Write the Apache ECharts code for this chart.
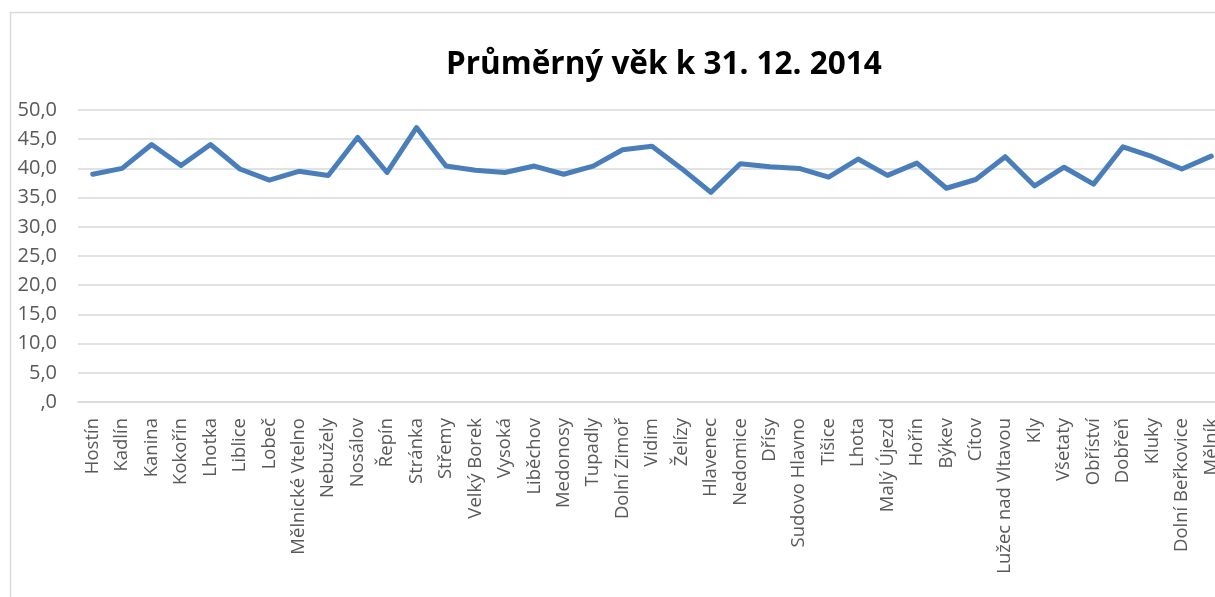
<!DOCTYPE html>
<html>
<head>
<meta charset="utf-8">
<script src="https://cdn.jsdelivr.net/npm/echarts@6/dist/echarts.min.js"></script>
<style>
  html, body { margin: 0; padding: 0; background: #ffffff; }
  #graf { width: 1215px; height: 597px; }
</style>
</head>
<body>
<div id="graf"></div>
<script>
// ── Datos ───────────────────────────────────────────────────────────────
const obce = [
   "Hostín", "Kadlín", "Kanina", "Kokořín", "Lhotka", "Liblice", "Lobeč",
   "Mělnické Vtelno", "Nebužely", "Nosálov", "Řepín", "Stránka", "Střemy",
   "Velký Borek", "Vysoká", "Liběchov", "Medonosy", "Tupadly", "Dolní Zimoř",
   "Vidim", "Želízy", "Hlavenec", "Nedomice", "Dřísy", "Sudovo Hlavno",
   "Tišice", "Lhota", "Malý Újezd", "Hořín", "Býkev", "Cítov",
   "Lužec nad Vltavou", "Kly", "Všetaty", "Obříství", "Dobřeň", "Kluky",
   "Dolní Beřkovice", "Mělník"
];

const prumernyVek = [
   39.0, 40.0, 44.1, 40.5, 44.1, 39.9, 38.0,
   39.5, 38.8, 45.3, 39.3, 47.0, 40.4,
   39.7, 39.3, 40.4, 39.0, 40.4, 43.2,
   43.8, 40.0, 35.9, 40.8, 40.3, 40.0,
   38.5, 41.6, 38.8, 40.9, 36.6, 38.1,
   42.0, 37.0, 40.2, 37.3, 43.7, 42.0,
   39.9, 42.1
];

const titulo = "Průměrný věk k 31. 12. 2014";

// ── Estilos ─────────────────────────────────────────────────────────────
const colores = {
   linea: "#4a7ebb",
   texto: "#595959",
   grid: "#d9d9d9",
   borde: "#d9d9d9"
};

const grafica = echarts.init(document.getElementById("graf"));

grafica.setOption({
   backgroundColor: "#ffffff",
   animation: false,
   title: {
      text: titulo,
      left: 441,
      top: 44,
      textStyle: { fontFamily: "Open Sans", fontWeight: "bold", fontSize: 31.5, color: "#000000" }
   },
   graphic: [
      {
         type: "rect",
         shape: { x: 10.5, y: 12.5, width: 1400, height: 800 },
         style: { fill: "none", stroke: colores.borde, lineWidth: 1.5 },
         silent: true
      }
   ],
   // el área de trazado continúa más allá del borde derecho
   grid: { left: 78, width: 1148, top: 110, bottom: 195, outerBoundsMode: "none", containLabel: false },
   xAxis: {
      type: "category",
      data: obce,
      boundaryGap: true,
      axisTick: { show: false },
      axisLine: { lineStyle: { color: colores.grid, width: 1.5 } },
      axisLabel: {
         interval: 0,
         rotate: 90,
         margin: 16,
         fontFamily: "Open Sans",
         fontSize: 18.5,
         color: colores.texto
      }
   },
   yAxis: {
      type: "value",
      min: 0,
      max: 50,
      interval: 5,
      axisLine: { show: false },
      axisTick: { show: false },
      splitLine: { lineStyle: { color: colores.grid, width: 1.5 } },
      axisLabel: {
         margin: 21,
         fontFamily: "Open Sans",
         fontSize: 20,
         color: colores.texto,
         formatter: (v) => v === 0 ? ",0" : v.toFixed(1).replace(".", ",")
      }
   },
   series: [
      {
         name: "Průměrný věk",
         type: "line",
         data: prumernyVek,
         showSymbol: false,
         smooth: false,
         lineStyle: { color: colores.linea, width: 5, join: "round", cap: "round" }
      }
   ]
});
</script>
</body>
</html>
